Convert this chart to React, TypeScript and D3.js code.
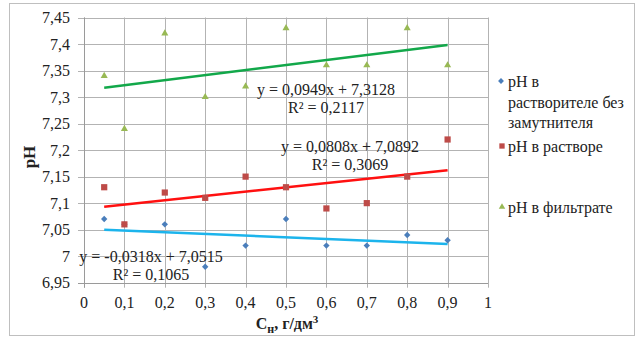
import React from "react";
import * as d3 from "d3";

const xValues = [0.05, 0.1, 0.2, 0.3, 0.4, 0.5, 0.6, 0.7, 0.8, 0.9];
const solventNoTurbidity = [7.07, 7.06, 7.06, 6.98, 7.02, 7.07, 7.02, 7.02, 7.04, 7.03];
const inSolution = [7.13, 7.06, 7.12, 7.11, 7.15, 7.13, 7.09, 7.1, 7.15, 7.22];
const inFiltrate = [7.34, 7.24, 7.42, 7.3, 7.32, 7.43, 7.36, 7.36, 7.43, 7.36];

const xTicks = [0, 0.1, 0.2, 0.3, 0.4, 0.5, 0.6, 0.7, 0.8, 0.9, 1];
const yTicks = [6.95, 7, 7.05, 7.1, 7.15, 7.2, 7.25, 7.3, 7.35, 7.4, 7.45];

const seriesNames = ["pH в растворителе  без замутнителя", "pH в растворе", "pH в фильтрате"];
const equations = [
  ["y = -0,0318x + 7,0515", "R² = 0,1065"],
  ["y = 0,0808x + 7,0892", "R² = 0,3069"],
  ["y = 0,0949x + 7,3128", "R² = 0,2117"],
];

const FONT = '"Liberation Serif", "Times New Roman", "DejaVu Serif", serif';

function fmt(v: number) {
  return String(+v.toFixed(2)).replace(".", ",");
}

function linreg(xs: number[], ys: number[]) {
  const mx = d3.mean(xs)!;
  const my = d3.mean(ys)!;
  let num = 0, den = 0;
  xs.forEach((x, i) => { num += (x - mx) * (ys[i] - my); den += (x - mx) ** 2; });
  const b = num / den;
  return { b, a: my - b * mx };
}

export default function App() {
  const x = d3.scaleLinear().domain([0, 1]).range([84, 488]);
  const y = d3.scaleLinear().domain([6.95, 7.45]).range([282.7, 17.5]);

  const series = [
    { vals: solventNoTurbidity, marker: "#4a7ebb", line: "#1cb4ec", shape: d3.symbolDiamond2, size: 26 },
    { vals: inSolution, marker: "#be4b48", line: "#ff1010", shape: d3.symbolSquare2, size: 49 },
    { vals: inFiltrate, marker: "#98b954", line: "#12a84a", shape: d3.symbolTriangle2, size: 36 },
  ];

  const eqPos = [
    { cx: 151, y1: 262, y2: 280 },
    { cx: 350, y1: 152, y2: 170 },
    { cx: 326, y1: 95, y2: 113 },
  ];

  const symbolPath = (shape: any, size: number) => d3.symbol().type(shape).size(size)()!;
  const line = d3.line<number[]>().x((d) => x(d[0])).y((d) => y(d[1]));

  const xMin = d3.min(xValues)!;
  const xMax = d3.max(xValues)!;
  const txt = { fontFamily: FONT };

  return (
    <svg width={642} height={356} style={{ position: "absolute", left: 0, top: 0, background: "#fff", fontFamily: FONT }}>
      <rect x={9.5} y={3.5} width={625} height={332} fill="#fff" stroke="#bfbfbf" strokeWidth={1} />
      {yTicks.map((t) => (
        <line key={"gy" + t} x1={78} x2={x(1)} y1={Math.round(y(t)) + 0.5} y2={Math.round(y(t)) + 0.5} stroke="#b3b3b3" strokeWidth={1} />
      ))}
      {xTicks.map((t) => (
        <line key={"gx" + t} x1={Math.round(x(t)) + 0.5} x2={Math.round(x(t)) + 0.5} y1={y(7.45)} y2={y(6.95) + 5} stroke="#b3b3b3" strokeWidth={1} />
      ))}
      <line x1={84.5} x2={84.5} y1={y(7.45)} y2={y(6.95) + 5} stroke="#9a9a9a" />
      <line x1={78} x2={x(1)} y1={Math.round(y(6.95)) + 0.5} y2={Math.round(y(6.95)) + 0.5} stroke="#9a9a9a" />
      {yTicks.map((t) => (
        <text key={"ty" + t} style={txt} x={70} y={y(t) + 5.5} textAnchor="end" fontSize={16} fill="#222">{fmt(t)}</text>
      ))}
      {xTicks.map((t) => (
        <text key={"tx" + t} style={txt} x={x(t)} y={308} textAnchor="middle" fontSize={16} fill="#222">{fmt(t)}</text>
      ))}
      <text style={txt} transform="translate(35,157) rotate(-90)" textAnchor="middle" fontSize={17} fontWeight="bold" fill="#222">pH</text>
      <text style={txt} x={287} y={329} textAnchor="middle" fontSize={16} fontWeight="bold" fill="#222">
        C<tspan fontSize={12} dy={4}>н</tspan><tspan dy={-4}>, г/дм</tspan><tspan fontSize={11} dy={-6}>3</tspan>
      </text>
      {series.map((s, i) => {
        const { a, b } = linreg(xValues, s.vals);
        const pts = [[xMin, a + b * xMin], [xMax, a + b * xMax]];
        return <path key={"tl" + i} d={line(pts)!} stroke={s.line} strokeWidth={2.5} fill="none" />;
      })}
      {series.map((s, i) =>
        s.vals.map((v, j) => (
          <path key={"m" + i + "-" + j} d={symbolPath(s.shape, s.size)} transform={`translate(${x(xValues[j])},${y(v)})`} fill={s.marker} />
        ))
      )}
      {equations.map((eq, i) => (
        <g key={"eq" + i}>
          <text style={txt} x={eqPos[i].cx} y={eqPos[i].y1} textAnchor="middle" fontSize={16} fill="#222">{eq[0]}</text>
          <text style={txt} x={eqPos[i].cx} y={eqPos[i].y2} textAnchor="middle" fontSize={16} fill="#222">{eq[1]}</text>
        </g>
      ))}
      <g fontSize={16} fill="#222">
        <path d={symbolPath(series[0].shape, 22)} transform="translate(501,81)" fill={series[0].marker} />
        <text style={txt} x={508} y={86.5}>pH в</text>
        <text style={txt} x={508} y={107.5}>растворителе  без</text>
        <text style={txt} x={508} y={127.5}>замутнителя</text>
        <path d={symbolPath(series[1].shape, 36)} transform="translate(502,146)" fill={series[1].marker} />
        <text style={txt} x={508} y={151.5}>{seriesNames[1]}</text>
        <path d={symbolPath(series[2].shape, 30)} transform="translate(502,207)" fill={series[2].marker} />
        <text style={txt} x={508} y={213}>{seriesNames[2]}</text>
      </g>
    </svg>
  );
}
